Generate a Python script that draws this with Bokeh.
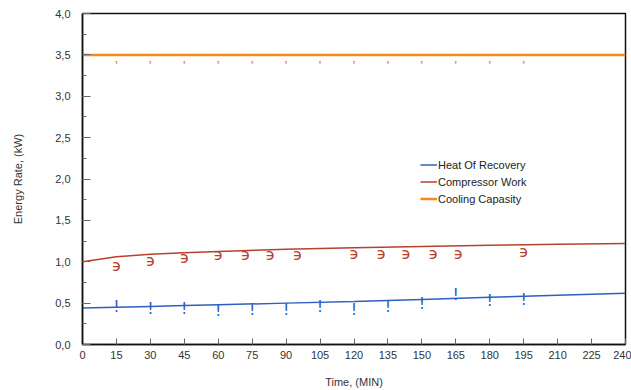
from bokeh.plotting import figure
from bokeh.models import (ColumnDataSource, Range1d, SingleIntervalTicker, CustomJSTickFormatter,
                          Legend, LegendItem)
from bokeh.core.properties import value
from bokeh.embed import file_html
from bokeh.resources import INLINE

# ---- data ----
time_marks = [15, 30, 45, 60, 75, 90, 105, 120, 135, 150, 165, 180, 195]
heat_recovery = [0.46, 0.43, 0.44, 0.41, 0.42, 0.42, 0.46, 0.42, 0.46, 0.50, 0.60, 0.53, 0.54]

compressor_time = [15, 30, 45, 60, 72, 83, 95, 120, 132, 143, 155, 166, 195]
compressor_work = [0.955, 1.015, 1.055, 1.085, 1.085, 1.085, 1.085, 1.10, 1.10, 1.10, 1.10, 1.10, 1.127]

cooling_time = [15, 30, 45, 60, 75, 90, 105, 120, 135, 150, 165, 180, 195]
cooling_capacity = [3.38] * 13

line_time = [0, 15, 30, 45, 60, 90, 120, 150, 180, 210, 240]
compressor_fit = [1.0, 1.06, 1.09, 1.11, 1.125, 1.15, 1.17, 1.185, 1.20, 1.21, 1.22]
heat_fit = [0.44, 0.45, 0.46, 0.47, 0.48, 0.50, 0.52, 0.545, 0.57, 0.595, 0.62]
cooling_fit = [3.5] * 11

BLUE = "#2f5fc0"
RED = "#b8402e"
ORANGE = "#f28c1e"
FONT = "Liberation Sans"

p = figure(width=631, height=390, output_backend="svg", toolbar_location=None,
           x_range=Range1d(0, 240), y_range=Range1d(0, 4),
           min_border_left=82, min_border_right=6, min_border_top=13, min_border_bottom=46)
p.background_fill_color = "white"
p.border_fill_color = "white"
p.outline_line_color = "#111111"
p.outline_line_width = 1.5
p.xgrid.visible = False
p.ygrid.visible = False

# axes
p.xaxis.ticker = SingleIntervalTicker(interval=15, num_minor_ticks=0)
p.yaxis.ticker = SingleIntervalTicker(interval=0.5, num_minor_ticks=2)
p.yaxis.formatter = CustomJSTickFormatter(code="return tick.toFixed(1).replace('.', ',');")
for ax in (p.xaxis[0], p.yaxis[0]):
    ax.axis_line_color = "#111111"
    ax.axis_line_width = 1.5
    ax.major_tick_line_color = "#666666"
    ax.minor_tick_line_color = "#666666"
    ax.major_tick_out = 0
    ax.minor_tick_out = 0
    ax.major_label_text_font = FONT
    ax.major_label_text_font_size = "11px"
    ax.major_label_text_color = "#333333"
    ax.axis_label_text_font = FONT
    ax.axis_label_text_font_size = "11px"
    ax.axis_label_text_font_style = "normal"
    ax.axis_label_text_color = "#333333"
p.xaxis.major_tick_in = 6
p.yaxis.major_tick_in = 8
p.yaxis.minor_tick_in = 4
p.xaxis.major_label_standoff = 6
p.xaxis.axis_label_standoff = 14
p.yaxis.major_label_standoff = 12
p.yaxis.axis_label_standoff = 28
p.xaxis.axis_label = "Time, (MIN)"
p.yaxis.axis_label = "Energy Rate, (kW)"

# fitted lines
l_cool = p.line(line_time, cooling_fit, line_color=ORANGE, line_width=2.5)
l_comp = p.line(line_time, compressor_fit, line_color=RED, line_width=1.5)
l_heat = p.line(line_time, heat_fit, line_color=BLUE, line_width=1.5)

# marker glyphs (text symbols)
p.text(x=time_marks, y=heat_recovery, text=["!"] * len(time_marks), text_color=BLUE,
       text_font=value("DejaVu Sans"), text_font_size="16px", text_align="center",
       text_baseline="middle")
p.text(x=compressor_time, y=compressor_work, text=["϶"] * len(compressor_time), text_color=RED,
       text_font=value("DejaVu Sans"), text_font_size="16px", text_align="center",
       text_baseline="middle")
p.text(x=cooling_time, y=cooling_capacity, text=["'"] * len(cooling_time), text_color=ORANGE,
       text_font=value(FONT), text_font_size="11px", text_align="center",
       text_baseline="middle", text_font_style="bold")

legend = Legend(items=[
    LegendItem(label="Heat Of Recovery", renderers=[l_heat]),
    LegendItem(label="Compressor Work", renderers=[l_comp]),
    LegendItem(label="Cooling Capasity", renderers=[l_cool]),
], location=(338, 137))
legend.border_line_color = None
legend.background_fill_alpha = 0
legend.padding = 0
legend.margin = 0
legend.spacing = 0
legend.glyph_width = 17
legend.glyph_height = 17
legend.label_height = 17
legend.label_standoff = 1
legend.label_text_font = FONT
legend.label_text_font_size = "11px"
legend.label_text_color = "#222222"
p.add_layout(legend, "center")

open("out.html", "w").write(file_html(p, INLINE))
